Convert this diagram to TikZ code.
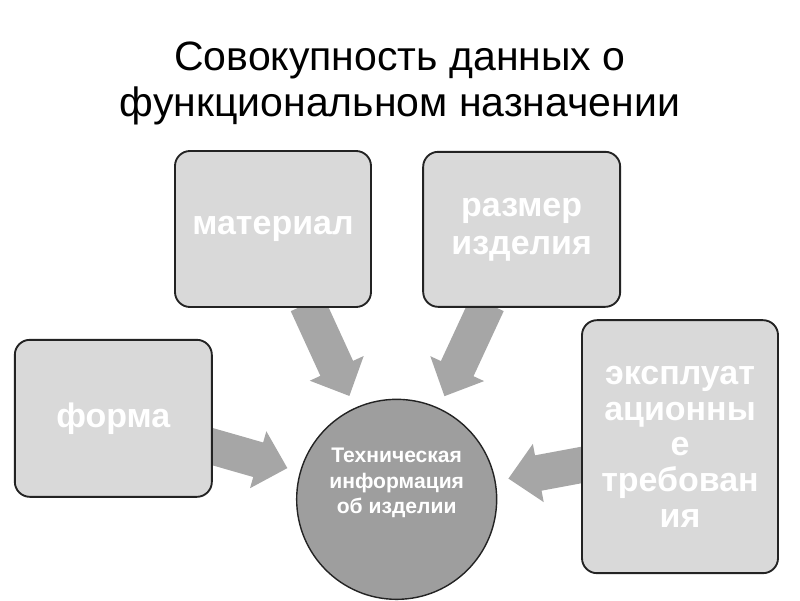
\documentclass[tikz,border=0pt]{standalone}
\usepackage{fontspec}
\setmainfont{Liberation Sans}
\usetikzlibrary{arrows.meta,backgrounds}

\definecolor{boxgray}{RGB}{217,217,217}
\definecolor{arrowgray}{RGB}{166,166,166}
\definecolor{circlegray}{RGB}{158,158,158}
\definecolor{edgegray}{RGB}{35,35,35}

\tikzset{
    box/.style={draw=edgegray, line width=1.6pt, fill=boxgray, rounded corners=0.45cm,
        text=white, font=\fontsize{29}{30.5}\selectfont\bfseries, align=center, inner sep=0pt},
    bigarrow/.style={arrowgray, line width=30.7pt, -{Triangle[length=26pt, width=49pt]},
        shorten >=11pt, shorten <=-4pt},
}

\begin{document}
\begin{tikzpicture}
        \useasboundingbox (0, 0) rectangle (24, 18);

        % Title
        \node[font=\fontsize{35}{39}\selectfont, align=center] (title) at (12, 15.5)
            {Совокупность данных о\\функциональном назначении};

        % Centre circle
        \node[circle, draw=edgegray, line width=1.2pt, fill=circlegray, minimum size=6cm, inner sep=0pt] (info) at (11.9, 3.02) {};
        \node[text=white, font=\fontsize{18}{21.5}\selectfont\bfseries, align=center] (infotext) at (11.9, 3.51)
            {Техническая\\информация\\об изделии};

        % Surrounding boxes
        \node[box, minimum width=5.88cm, minimum height=4.68cm] (mat) at (8.19, 11.13) {материал};
        \node[box, minimum width=5.91cm, minimum height=4.65cm] (raz) at (15.65, 11.12) {размер\\[2pt]изделия};
        \node[box, minimum width=5.91cm, minimum height=4.71cm] (form) at (3.4, 5.45) {форма};
        \node[box, minimum width=5.88cm, minimum height=7.59cm] (expl) at (20.4, 4.6)
            {эксплуат\\ационны\\е\\требован\\ия};

        % Block arrows
        \begin{scope}[on background layer]
            \foreach \src in {mat, raz, form, expl}
                \draw[bigarrow] (\src) -- (info);
        \end{scope}
\end{tikzpicture}
\end{document}
